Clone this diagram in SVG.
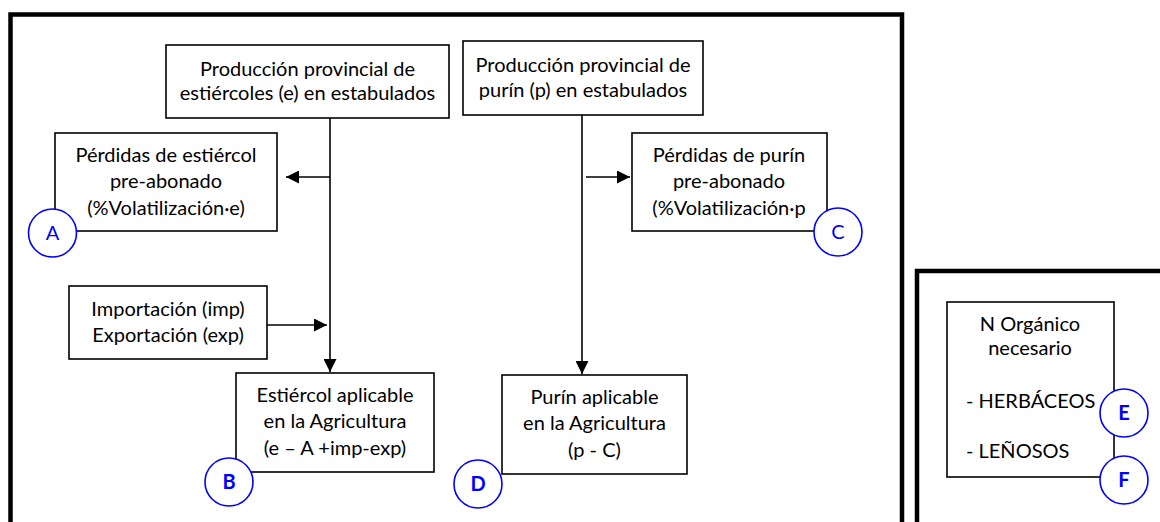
<svg xmlns="http://www.w3.org/2000/svg" width="1160" height="522" viewBox="0 0 1160 522">
<defs>
<style>
.frame{fill:none;stroke:#000;stroke-width:4.5}
.box{fill:#fff;stroke:#000;stroke-width:1.6}
.t{font-family:Lato,"Liberation Sans",sans-serif;font-size:20px;fill:#000;text-anchor:middle}
.tl{text-anchor:start}
.c{fill:#fff;stroke:#0000ff;stroke-width:1.6}
.ct{font-family:Lato,"Liberation Sans",sans-serif;font-size:20px;fill:#0000ff;text-anchor:middle}
.b{font-weight:bold}
.ln{stroke:#000;stroke-width:1.6;fill:none}
</style>
<marker id="ah" viewBox="0 0 10 10" refX="10" refY="5" markerWidth="16" markerHeight="13" markerUnits="userSpaceOnUse" orient="auto">
<path d="M0,0 L10,5 L0,10 Z" fill="#000"/>
</marker>
</defs>
<rect width="1160" height="522" fill="#fff"/>
<g id="frames">
<path class="frame" d="M10.5,540 V14.5 H902 V540"/>
<path class="frame" d="M917,540 V271 H1180"/>
</g>
<g id="connectors">
<line class="ln" x1="330" y1="118" x2="330" y2="372" marker-end="url(#ah)"/>
<line class="ln" x1="330" y1="177" x2="286" y2="177" marker-end="url(#ah)"/>
<line class="ln" x1="267" y1="325" x2="327" y2="325" marker-end="url(#ah)"/>
<line class="ln" x1="582" y1="115" x2="582" y2="374" marker-end="url(#ah)"/>
<line class="ln" x1="586" y1="177" x2="630" y2="177" marker-end="url(#ah)"/>
</g>
<g id="n-prod-e">
<rect class="box" x="166" y="45" width="283" height="73"/>
<text class="t" x="307.5" y="76">Producción provincial de</text>
<text class="t" x="307.5" y="100">estiércoles (e) en estabulados</text>
</g>
<g id="n-prod-p">
<rect class="box" x="463" y="41" width="240" height="74"/>
<text class="t" x="583" y="72">Producción provincial de</text>
<text class="t" x="583" y="97">purín (p) en estabulados</text>
</g>
<g id="n-perd-e">
<rect class="box" x="55" y="133" width="222" height="98"/>
<text class="t" x="166" y="162">Pérdidas de estiércol</text>
<text class="t" x="166" y="188">pre-abonado</text>
<text class="t" x="166" y="215">(%Volatilización·e)</text>
</g>
<g id="n-perd-p">
<rect class="box" x="632" y="133" width="195" height="98"/>
<text class="t" x="729" y="162">Pérdidas de purín</text>
<text class="t" x="729" y="188">pre-abonado</text>
<text class="t" x="729" y="215">(%Volatilización·p</text>
</g>
<g id="n-impexp">
<rect class="box" x="69" y="286" width="198" height="73"/>
<text class="t" x="168" y="316">Importación (imp)</text>
<text class="t" x="168" y="342">Exportación (exp)</text>
</g>
<g id="n-estiercol">
<rect class="box" x="236" y="373" width="198" height="99"/>
<text class="t" x="335" y="402">Estiércol aplicable</text>
<text class="t" x="335" y="428">en la Agricultura</text>
<text class="t" x="335" y="455">(e – A +imp-exp)</text>
</g>
<g id="n-purin">
<rect class="box" x="502" y="375" width="185" height="99"/>
<text class="t" x="594.5" y="404">Purín aplicable</text>
<text class="t" x="594.5" y="430">en la Agricultura</text>
<text class="t" x="594.5" y="457">(p - C)</text>
</g>
<g id="n-norg">
<rect class="box" x="947" y="302" width="167" height="175"/>
<text class="t" x="1030" y="331">N Orgánico</text>
<text class="t" x="1030" y="355">necesario</text>
<text class="t tl" x="966" y="408">- HERBÁCEOS</text>
<text class="t tl" x="966" y="458">- LEÑOSOS</text>
</g>
<g id="m-A"><circle class="c" cx="52.5" cy="233" r="24"/><text class="ct" x="52.5" y="240">A</text></g>
<g id="m-B"><circle class="c" cx="229" cy="482" r="24"/><text class="ct b" x="229" y="489">B</text></g>
<g id="m-C"><circle class="c" cx="838" cy="232" r="24"/><text class="ct" x="838" y="239">C</text></g>
<g id="m-D"><circle class="c" cx="478" cy="484" r="24"/><text class="ct b" x="478" y="491">D</text></g>
<g id="m-E"><circle class="c" cx="1124" cy="413" r="24"/><text class="ct b" x="1124" y="420">E</text></g>
<g id="m-F"><circle class="c" cx="1124" cy="480" r="24"/><text class="ct b" x="1124" y="487">F</text></g>
</svg>
